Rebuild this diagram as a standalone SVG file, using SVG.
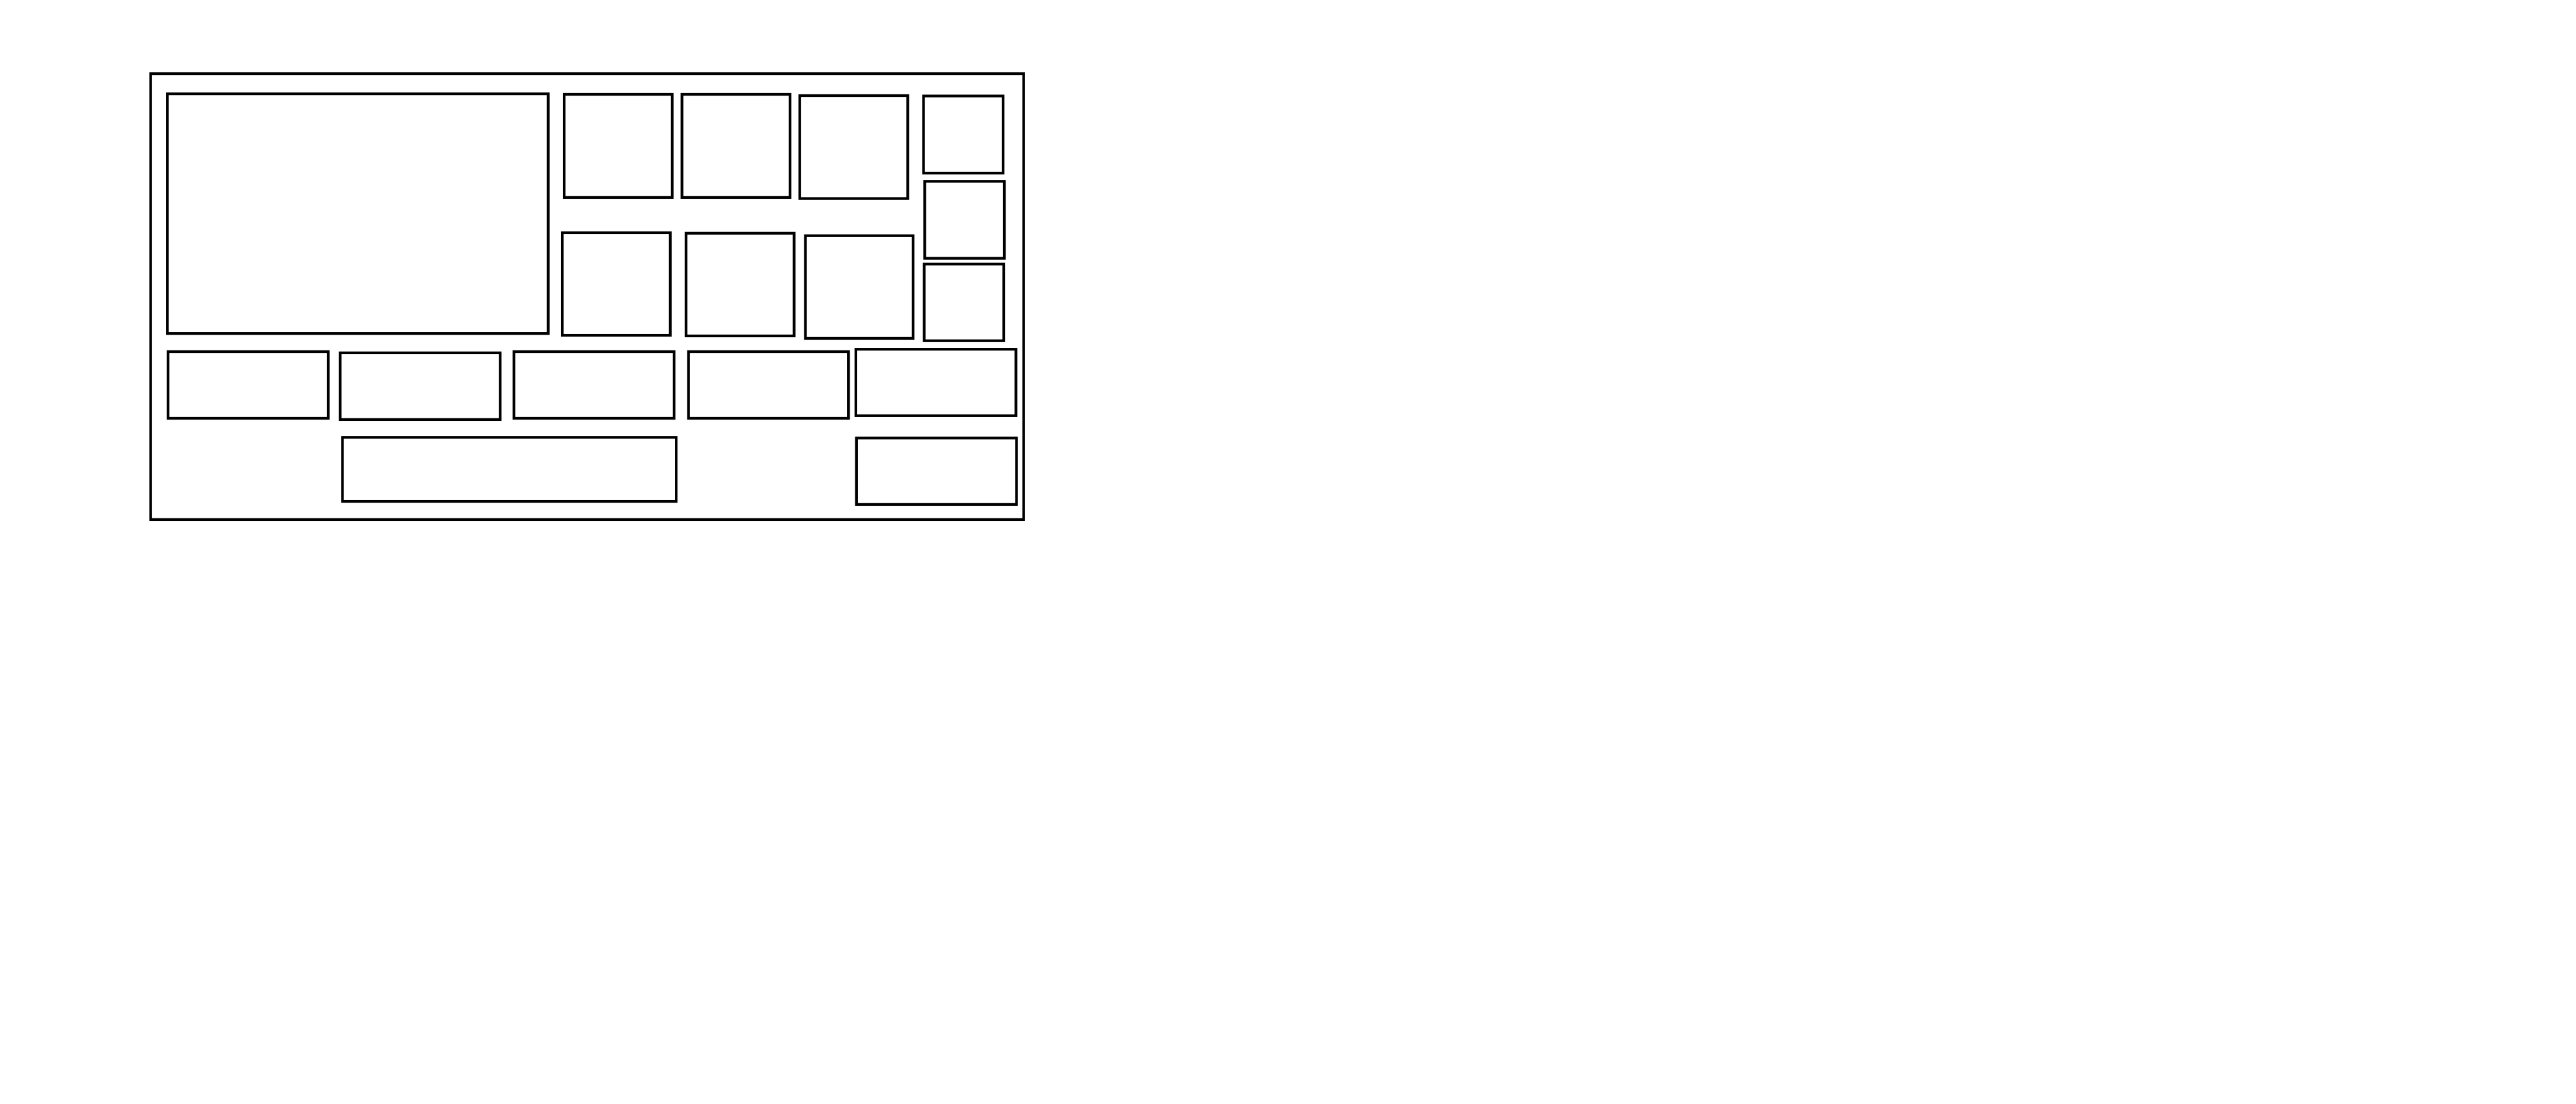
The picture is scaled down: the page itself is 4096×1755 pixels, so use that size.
<svg xmlns="http://www.w3.org/2000/svg" width="4096" height="1755" viewBox="0 0 4096 1755">
<style>
.b{fill:#fff;stroke:#000;stroke-width:4.3}
.f{fill:none;stroke:#000;stroke-width:4.3}
</style>
<rect x="0" y="0" width="4096" height="1755" fill="#fff"/>
<g id="frame"><rect class="f" x="239.6" y="117.1" width="1388.1" height="708.8"/></g>
<g id="big"><rect class="b" x="266.2" y="149.1" width="605.5" height="381.1"/></g>
<g id="a"><rect class="b" x="897.1" y="150" width="171.8" height="163.9"/></g>
<g id="b"><rect class="b" x="1084.4" y="150" width="171.8" height="163.9"/></g>
<g id="c"><rect class="b" x="1271.7" y="152" width="171.7" height="163.6"/></g>
<g id="d"><rect class="b" x="1468.5" y="152.6" width="126.5" height="122.6"/></g>
<g id="e"><rect class="b" x="1470.4" y="288.3" width="126.6" height="122.3"/></g>
<g id="f"><rect class="b" x="1469.5" y="419.8" width="126.5" height="121.9"/></g>
<g id="g"><rect class="b" x="894.1" y="369.9" width="171.7" height="163.2"/></g>
<g id="h"><rect class="b" x="1090.9" y="370.8" width="171.8" height="163.2"/></g>
<g id="i"><rect class="b" x="1280.6" y="374.7" width="171.3" height="163.2"/></g>
<g id="j"><rect class="b" x="267.2" y="559" width="254.8" height="106"/></g>
<g id="k"><rect class="b" x="540.9" y="560.9" width="254.4" height="106"/></g>
<g id="l"><rect class="b" x="817.2" y="559" width="254.7" height="106"/></g>
<g id="n"><rect class="b" x="1094.7" y="559" width="254.5" height="106"/></g>
<g id="o"><rect class="b" x="1360.9" y="555.2" width="254.5" height="105.6"/></g>
<g id="m"><rect class="b" x="544.5" y="695.3" width="530.7" height="101.8"/></g>
<g id="p"><rect class="b" x="1361.8" y="696.3" width="254.6" height="105.6"/></g>
<g id="connectors"></g>
</svg>
